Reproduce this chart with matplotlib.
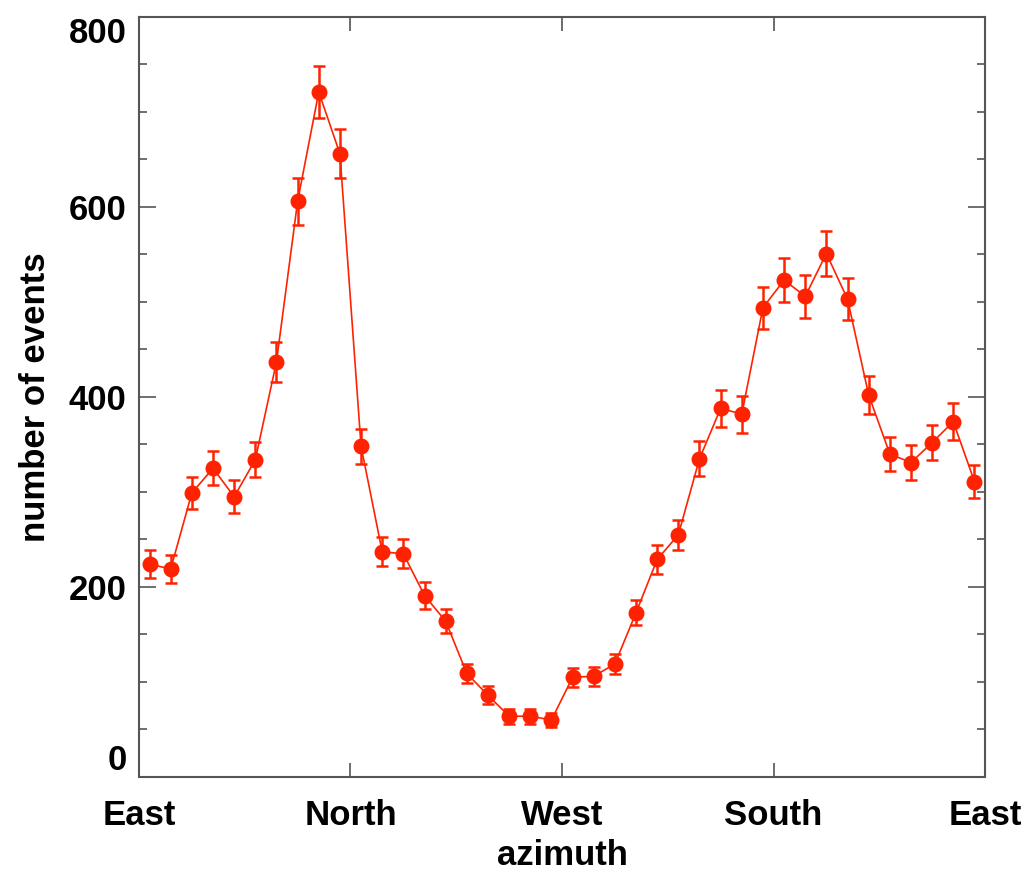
import matplotlib.pyplot as plt
import numpy as np
from matplotlib.ticker import MultipleLocator, FuncFormatter

plt.rcParams['font.family'] = ['Liberation Sans', 'DejaVu Sans']
plt.rcParams['font.weight'] = 'bold'

# azimuth bins, 9 degrees wide, centred at 4.5, 13.5, ... 355.5
azimuth = np.arange(4.5, 360, 9)

# counts per azimuth bin
events = [224, 219, 299, 325, 295, 334, 437, 606, 721, 656,
          348, 237, 235, 191, 164, 109, 86, 64, 64, 60,
          105, 106, 119, 173, 229, 255, 335, 388, 382, 494,
          523, 506, 551, 503, 402, 340, 331, 352, 374, 311]

# statistical errors on the counts
errors = [15.0, 14.8, 17.3, 18.0, 17.2, 18.3, 20.9, 24.6, 26.9, 25.6,
          18.7, 15.4, 15.3, 13.8, 12.8, 10.4, 9.3, 8.0, 8.0, 7.7,
          10.2, 10.3, 10.9, 13.2, 15.1, 16.0, 18.3, 19.7, 19.5, 22.2,
          22.9, 22.5, 23.5, 22.4, 20.0, 18.4, 18.2, 18.8, 19.3, 17.6]

directions = ['East', 'North', 'West', 'South', 'East']
direction_pos = [0, 90, 180, 270, 360]

ymin, ymax = 0, 800
red = '#ff2200'
fs = 25

fig = plt.figure(figsize=(10.25, 8.75), dpi=100)
ax = fig.add_axes([0.1356, 0.112, 0.8254, 0.8686])

ax.errorbar(azimuth, events, yerr=errors, color=red, marker='o',
            markersize=10.5, linewidth=1.2, elinewidth=1.8,
            capsize=4.6, capthick=1.8, ecolor=red)

ax.set_xlim(0, 360)
ax.set_ylim(ymin, ymax)

ax.set_xticks(direction_pos)
ax.set_xticklabels(directions)
ax.yaxis.set_major_locator(MultipleLocator(200))
ax.yaxis.set_minor_locator(MultipleLocator(50))
# end labels are drawn separately so they sit inside the axis range
ax.yaxis.set_major_formatter(FuncFormatter(
    lambda v, p: '' if v in (ymin, ymax) else '%d' % v))

ax.tick_params(axis='both', which='both', direction='in', top=True, right=True,
               colors='#555555', labelcolor='black', width=1.2)
ax.tick_params(axis='y', which='major', length=12, pad=9, labelsize=fs)
ax.tick_params(axis='y', which='minor', length=6)
ax.tick_params(axis='x', which='major', length=10, pad=16, labelsize=fs)

lab_tr = ax.get_yaxis_text1_transform(9)[0]
ax.text(0, ymin, '%d' % ymin, transform=lab_tr, ha='right', va='bottom',
        fontsize=fs, fontweight='bold')
ax.text(0, ymax, '%d' % ymax, transform=lab_tr, ha='right', va='top',
        fontsize=fs, fontweight='bold')

for spine in ax.spines.values():
    spine.set_color('#555555')
    spine.set_linewidth(1.5)

ax.set_xlabel('azimuth', fontsize=fs, fontweight='bold', labelpad=5)
ax.set_ylabel('number of events', fontsize=fs, fontweight='bold', labelpad=12)

plt.savefig('out.png', dpi=100)
